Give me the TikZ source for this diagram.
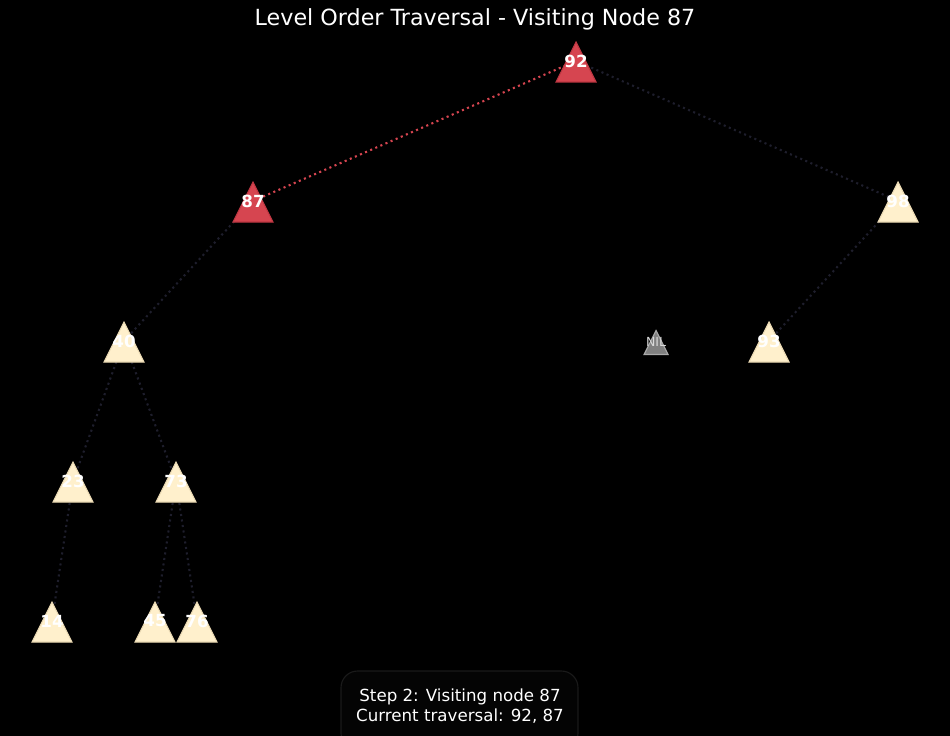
\documentclass[tikz,border=0pt]{standalone}
\usepackage{fontspec}
\setmainfont{DejaVu Sans}
\definecolor{redn}{RGB}{214,69,80}
\definecolor{redE}{RGB}{190,55,66}
\definecolor{cream}{RGB}{255,240,204}
\definecolor{creamE}{RGB}{235,218,180}
\definecolor{niln}{RGB}{128,128,128}
\definecolor{nilE}{RGB}{170,170,170}
\definecolor{edgedark}{RGB}{30,30,44}
\definecolor{boxfill}{RGB}{4,4,4}
\definecolor{boxline}{RGB}{26,26,26}
\pgfdeclarelayer{bg}
\pgfdeclarelayer{mid}
\pgfsetlayers{bg,mid,main}
\tikzset{
  lbl/.style={text=white,font=\bfseries\fontsize{12}{14}\selectfont,inner sep=0pt,minimum size=2pt},
  nillbl/.style={text=white!85!black,font=\fontsize{9}{11}\selectfont,inner sep=0pt},
  link/.style={draw=edgedark,line width=1.5pt,dash pattern=on 1.5pt off 2.5pt},
  redlink/.style={draw=redn,line width=1.5pt,dash pattern=on 1.5pt off 2.5pt},
}
\newcommand{\tri}[5]{% x y r fill draw
  \fill[#4,draw=#5,line width=0.8pt] (#1,#2-#3) -- (#1+#3,#2+#3) -- (#1-#3,#2+#3) -- cycle;}
\begin{document}
\begin{tikzpicture}[x=0.72pt,y=-0.72pt]
\begin{pgfonlayer}{bg}
\fill[black] (0,0) rectangle (950,736);
\end{pgfonlayer}
\useasboundingbox (0,0) rectangle (950,736);
\node[text=white,font=\fontsize{16}{19}\selectfont] (title) at (475,19) {Level Order Traversal - Visiting Node 87};
% label nodes
\node[lbl] (n92) at (576,61) {92};
\node[lbl] (n87) at (253,201) {87};
\node[lbl] (n98) at (898,201) {98};
\node[lbl] (n40) at (124,341) {40};
\node[nillbl] (nil) at (656,342) {NIL};
\node[lbl] (n93) at (769,341) {93};
\node[lbl] (n23) at (73,481) {23};
\node[lbl] (n73) at (176,481) {73};
\node[lbl] (n14) at (52,621) {14};
\node[lbl] (n45) at (155,621) {45};
\node[lbl] (n76) at (197,621) {76};
\begin{pgfonlayer}{mid}
\tri{576}{62}{20}{redn}{redE}
\tri{253}{202}{20}{redn}{redE}
\tri{898}{202}{20}{cream}{creamE}
\tri{124}{342}{20}{cream}{creamE}
\tri{656}{342.5}{12}{niln}{nilE}
\tri{769}{342}{20}{cream}{creamE}
\tri{73}{482}{20}{cream}{creamE}
\tri{176}{482}{20}{cream}{creamE}
\tri{52}{622}{20}{cream}{creamE}
\tri{155}{622}{20}{cream}{creamE}
\tri{197}{622}{20}{cream}{creamE}
\end{pgfonlayer}
\begin{pgfonlayer}{bg}
\draw[redlink] (n92.center) -- (n87.center);
\draw[link] (n92.center) -- (n98.center);
\draw[link] (n87.center) -- (n40.center);
\draw[link] (n98.center) -- (n93.center);
\draw[link] (n40.center) -- (n23.center);
\draw[link] (n40.center) -- (n73.center);
\draw[link] (n23.center) -- (n14.center);
\draw[link] (n73.center) -- (n45.center);
\draw[link] (n73.center) -- (n76.center);
\end{pgfonlayer}
\draw[boxline,fill=boxfill,line width=0.8pt,rounded corners=12] (341,671) rectangle (578,750);
\node[text=white,font=\fontsize{12}{14.5}\selectfont,align=center] (info) at (460,706) {Step 2: Visiting node 87\\Current traversal: 92, 87};
\end{tikzpicture}
\end{document}
